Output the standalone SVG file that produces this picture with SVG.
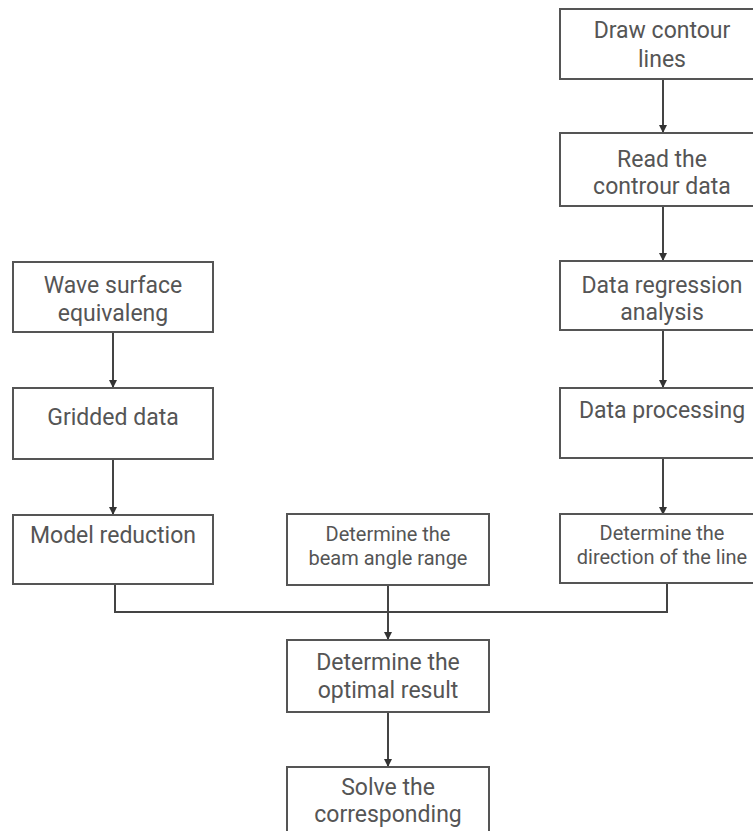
<svg xmlns="http://www.w3.org/2000/svg" width="753" height="831" viewBox="0 0 753 831">
<defs>
<marker id="arr" viewBox="0 0 10 10" refX="10" refY="5" markerWidth="8" markerHeight="9" orient="auto" markerUnits="userSpaceOnUse">
<path d="M0,0 L10,5 L0,10 z" fill="#333"/>
</marker>
<style>
.box{fill:#fff;stroke:#555;stroke-width:2}
.t{font-family:Roboto,"Noto Sans",sans-serif;font-size:23px;fill:#555;text-anchor:middle}
.s{font-family:Roboto,"Noto Sans",sans-serif;font-size:20px;fill:#555;text-anchor:middle}
.c{fill:none;stroke:#444;stroke-width:2}
</style>
</defs>
<rect width="753" height="831" fill="#fff"/>
<g id="connectors">
<line class="c" x1="113" y1="332" x2="113" y2="388" marker-end="url(#arr)"/>
<line class="c" x1="113" y1="459" x2="113" y2="515" marker-end="url(#arr)"/>
<line class="c" x1="663" y1="79" x2="663" y2="133" marker-end="url(#arr)"/>
<line class="c" x1="663" y1="206" x2="663" y2="261" marker-end="url(#arr)"/>
<line class="c" x1="663" y1="330" x2="663" y2="388" marker-end="url(#arr)"/>
<line class="c" x1="663" y1="458" x2="663" y2="515" marker-end="url(#arr)"/>
<polyline class="c" points="115,584 115,612 667,612 667,584"/>
<line class="c" x1="388" y1="585" x2="388" y2="640" marker-end="url(#arr)"/>
<line class="c" x1="388" y1="712" x2="388" y2="767" marker-end="url(#arr)"/>
</g>
<g id="wave">
<rect class="box" x="13" y="262" width="200" height="70"/>
<text class="t" x="113" y="293">Wave surface</text>
<text class="t" x="113" y="321">equivaleng</text>
</g>
<g id="gridded">
<rect class="box" x="13" y="388" width="200" height="71"/>
<text class="t" x="113" y="425">Gridded data</text>
</g>
<g id="model">
<rect class="box" x="13" y="515" width="200" height="69"/>
<text class="t" x="113" y="543">Model reduction</text>
</g>
<g id="draw">
<rect class="box" x="560" y="9" width="206" height="70"/>
<text class="t" x="662" y="38">Draw contour</text>
<text class="t" x="662" y="67">lines</text>
</g>
<g id="read">
<rect class="box" x="560" y="133" width="206" height="73"/>
<text class="t" x="662" y="167">Read the</text>
<text class="t" x="662" y="194">controur data</text>
</g>
<g id="regression">
<rect class="box" x="560" y="261" width="206" height="69"/>
<text class="t" x="662" y="293">Data regression</text>
<text class="t" x="662" y="320">analysis</text>
</g>
<g id="processing">
<rect class="box" x="560" y="388" width="206" height="70"/>
<text class="t" x="662" y="418">Data processing</text>
</g>
<g id="direction">
<rect class="box" x="560" y="514" width="206" height="69"/>
<text class="s" x="662" y="540">Determine the</text>
<text class="s" x="662" y="564">direction of the line</text>
</g>
<g id="beam">
<rect class="box" x="287" y="514" width="202" height="71"/>
<text class="s" x="388" y="541">Determine the</text>
<text class="s" x="388" y="565">beam angle range</text>
</g>
<g id="optimal">
<rect class="box" x="287" y="640" width="202" height="72"/>
<text class="t" x="388" y="670">Determine the</text>
<text class="t" x="388" y="698">optimal result</text>
</g>
<g id="solve">
<rect class="box" x="287" y="767" width="202" height="80"/>
<text class="t" x="388" y="795">Solve the</text>
<text class="t" x="388" y="822">corresponding</text>
</g>
</svg>
